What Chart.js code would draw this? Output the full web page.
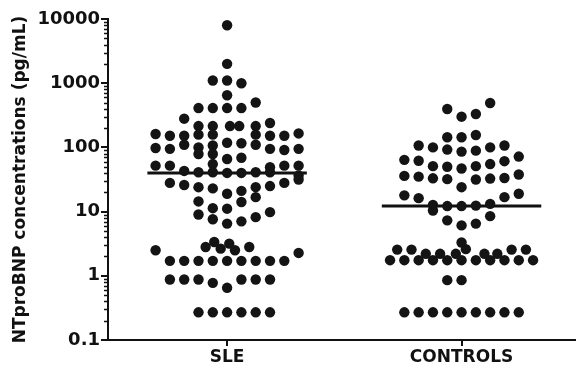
<!DOCTYPE html>
<html>
<head>
<meta charset="utf-8">
<script src="https://cdn.jsdelivr.net/npm/chart.js@4"></script>
<style>
  html, body { margin: 0; padding: 0; background: #fff; }
  #wrap { width: 580px; height: 368px; }
</style>
</head>
<body>
<div id="wrap"><canvas id="myChart"></canvas></div>
<script>
// categories and tick labels
var categories = ['SLE', 'CONTROLS'];
var yTicks = [0.1, 1, 10, 100, 1000, 10000];

// SLE values (pg/mL) and their column in the dot stack
var sleValues = [8000, 2000, 1100, 1100, 1000, 650, 500,
    410, 410, 410, 410, 280, 240,
    215, 215, 215, 215, 215,
    162, 152, 152, 158, 158, 158, 152, 152, 165,
    98, 95, 110, 100, 107, 118, 116, 110, 95, 91, 95,
    79, 79, 66, 69,
    52, 52, 55, 49, 52, 52,
    43, 41, 41, 40, 40, 41, 41, 36.5,
    28, 26, 24, 23, 19, 21, 24, 25, 28, 31.6,
    16.8, 14.1, 14.4, 11.3, 11.1,
    9, 7.6, 6.5, 7.05, 8.2, 9.8,
    2.81, 3.36, 2.65, 3.17, 2.5, 2.81, 2.5, 2.27,
    1.71, 1.71, 1.71, 1.71, 1.71, 1.71, 1.71, 1.71, 1.71,
    0.876, 0.876, 0.876, 0.776, 0.65, 0.876, 0.876, 0.876,
    0.27, 0.27, 0.27, 0.27, 0.27, 0.27];
var sleColumns = [0, 0, -1, 0, 1, 0, 2,
    -2, -1, 0, 1, -3, 3,
    -2, -1, 0.2, 0.85, 2,
    -5, -4, -3, -2, -1, 2, 3, 4, 5,
    -5, -4, -3, -2, -1, 0, 1, 2, 3, 4, 5,
    -2, -1, 0, 1,
    -5, -4, -1, 3, 4, 5,
    -3, -2, -1, 0, 1, 2, 3, 5,
    -4, -3, -2, -1, 0, 1, 2, 3, 4, 5,
    2, 1, -2, -1, 0,
    -2, -1, 0, 1, 2, 3,
    -1.5, -0.9, -0.45, 0.15, 0.55, 1.55, -5, 5,
    -4, -3, -2, -1, 0, 1, 2, 3, 4,
    -4, -3, -2, -1, 0, 1, 2, 3,
    -2, -1, 0, 1, 2, 3];

// CONTROLS values and columns
var controlValues = [396, 301, 331, 491,
    144, 144, 156,
    107, 100, 92.5, 86, 89, 100, 107,
    64, 62, 51, 50, 47, 51, 55, 61, 72,
    36, 35, 33, 32, 24, 31.6, 32.7, 33.4, 37.8,
    17.9, 16.2, 16.8, 19,
    12.7, 10.4, 12.2, 12.2, 12.4, 13.2,
    7.3, 6.1, 6.5, 8.5,
    3.3, 2.6,
    2.56, 2.56, 2.2, 2.2, 2.2, 2.2, 2.2, 2.56, 2.56,
    1.75, 1.75, 1.75, 1.75, 1.75, 1.75, 1.75, 1.75, 1.75, 1.75, 1.75,
    0.855, 0.855,
    0.27, 0.27, 0.27, 0.27, 0.27, 0.27, 0.27, 0.27, 0.27];
var controlColumns = [-1, 0, 1, 2,
    -1, 0, 1,
    -3, -2, -1, 0, 1, 2, 3,
    -4, -3, -2, -1, 0, 1, 2, 3, 4,
    -4, -3, -2, -1, 0, 1, 2, 3, 4,
    -4, -3, 3, 4,
    -2, -2, -1, 0, 1, 2,
    -1, 0, 1, 2,
    0, 0.3,
    -4.5, -3.5, -2.5, -1.5, -0.4, 1.6, 2.5, 3.5, 4.5,
    -5, -4, -3, -2, -1, 0, 1, 2, 3, 4, 5,
    -1, 0,
    -4, -3, -2, -1, 0, 1, 2, 3, 4];

// medians (horizontal bars)
var medians = [40, 12.2];

var colStep = 0.061; // width of one dot column in x units
var barHalf = 0.34;

function toPoints(center, vals, cols) {
    return vals.map(function (v, i) { return { x: center + cols[i] * colStep, y: v }; });
}

// short minor tick marks on the log axis
var minorTicks = {
    id: 'minorTicks',
    afterDraw: function (chart) {
        var s = chart.scales.y;
        var c = chart.ctx;
        c.save();
        c.strokeStyle = '#111';
        c.lineWidth = 1.5;
        for (var e = -1; e < 4; e++) {
            for (var d = 2; d < 10; d++) {
                var py = Math.round(s.getPixelForValue(d * Math.pow(10, e))) + 0.5;
                c.beginPath();
                c.moveTo(s.right - 4, py);
                c.lineTo(s.right, py);
                c.stroke();
            }
        }
        c.restore();
    }
};

var ctx = document.getElementById('myChart');
var myChart = new Chart(ctx, {
    type: 'scatter',
    data: {
        datasets: [{
            data: toPoints(0, sleValues, sleColumns),
            backgroundColor: '#141414',
            borderWidth: 0,
            pointRadius: 5.2
        }, {
            data: toPoints(1, controlValues, controlColumns),
            backgroundColor: '#141414',
            borderWidth: 0,
            pointRadius: 5.2
        }, {
            type: 'line',
            data: [{ x: -barHalf, y: medians[0] }, { x: barHalf, y: medians[0] }],
            borderColor: '#111',
            borderWidth: 3,
            pointRadius: 0
        }, {
            type: 'line',
            data: [{ x: 1 - barHalf, y: medians[1] }, { x: 1 + barHalf, y: medians[1] }],
            borderColor: '#111',
            borderWidth: 3,
            pointRadius: 0
        }]
    },
    plugins: [minorTicks],
    options: {
        responsive: true,
        maintainAspectRatio: false,
        animation: false,
        layout: { padding: { top: 19, right: 2, left: 0, bottom: 0 } },
        plugins: {
            legend: { display: false },
            tooltip: { enabled: false }
        },
        scales: {
            x: {
                type: 'linear',
                min: -0.508,
                max: 1.483,
                afterBuildTicks: function (s) { s.ticks = [{ value: 0 }, { value: 1 }]; },
                afterFit: function (s) { s.height = 28; },
                ticks: {
                    callback: function (v) { return categories[v]; },
                    color: '#111',
                    padding: 1,
                    font: { family: 'DejaVu Sans', weight: 'bold', size: 17 }
                },
                grid: { drawOnChartArea: false, color: '#111', tickLength: 6, lineWidth: 2 },
                border: { display: true, color: '#111', width: 2 }
            },
            y: {
                type: 'logarithmic',
                min: 0.1,
                max: 10000,
                afterBuildTicks: function (s) {
                    s.ticks = yTicks.map(function (v) { return { value: v, major: true }; });
                },
                afterFit: function (s) { s.width = 108; },
                ticks: {
                    callback: function (v) { return String(v); },
                    color: '#111',
                    padding: 1,
                    font: { family: 'DejaVu Sans', weight: 'bold', size: 18 }
                },
                grid: { drawOnChartArea: false, color: '#111', tickLength: 7, lineWidth: 2 },
                border: { display: true, color: '#111', width: 2 },
                title: {
                    display: true,
                    text: 'NTproBNP concentrations (pg/mL)',
                    color: '#111',
                    padding: { top: 10, bottom: 0 },
                    font: { family: 'DejaVu Sans', weight: 'bold', size: 17 }
                }
            }
        }
    }
});
</script>
</body>
</html>
